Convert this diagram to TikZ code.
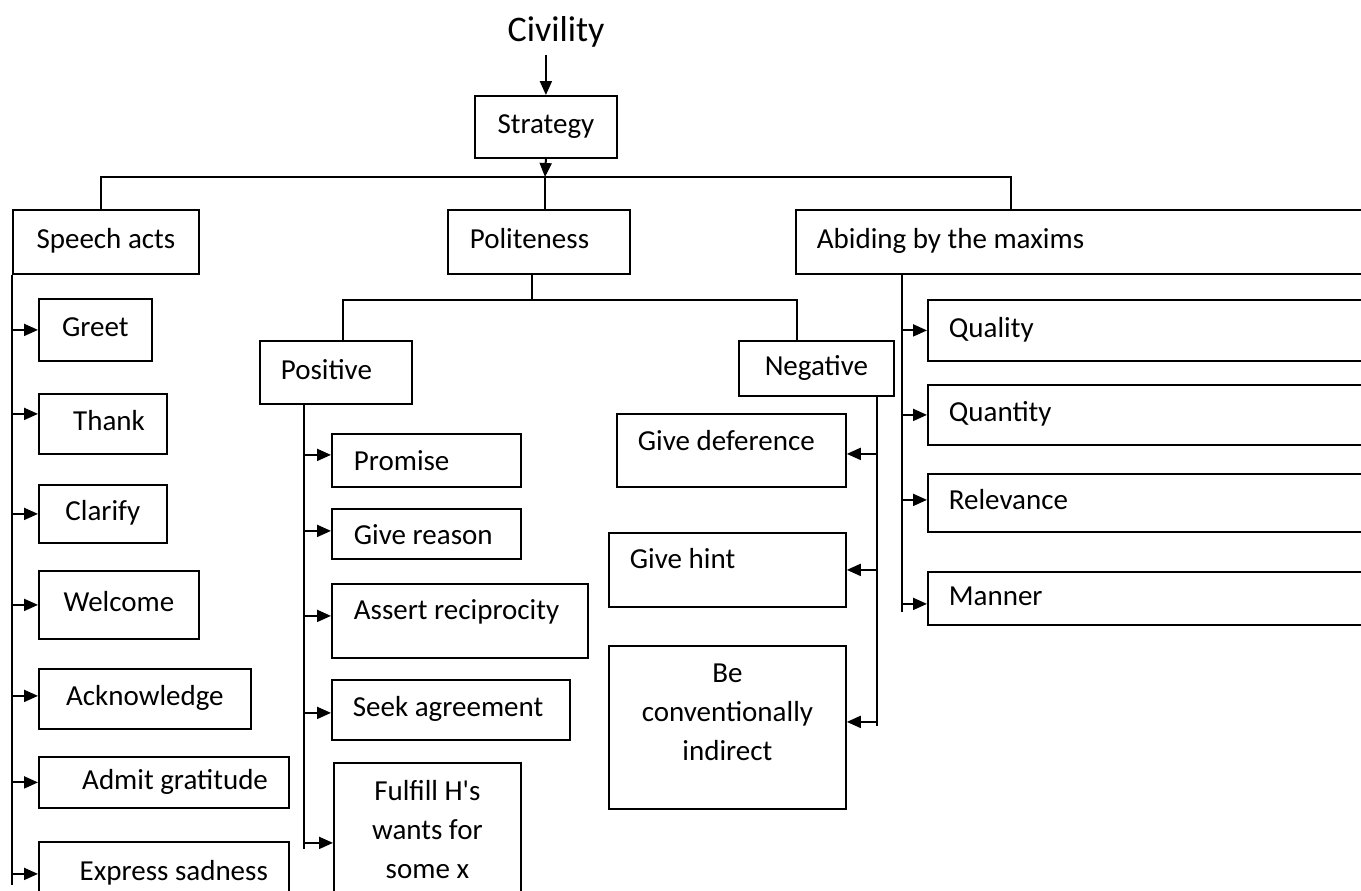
\documentclass[tikz,border=0pt]{standalone}
\usepackage{fontspec}
\setmainfont{Carlito}
\usetikzlibrary{arrows.meta}
\tikzset{
  every node/.style={font=\fontsize{14.5}{19.5}\selectfont},
  box/.style 2 args={draw, line width=0.9pt, inner sep=0pt, anchor=north west,
    minimum width=#1, minimum height=#2, text height=10.5pt, text depth=3.5pt},
  lt/.style={text width=#1, align=flush left},
  rt/.style={text width=#1, align=flush right},
  ml/.style={align=center, text height=, text depth=#1},
  ln/.style={line width=1pt},
  arr/.style={line width=1pt, -{Triangle[length=7pt,width=6pt]}}
}

\begin{document}
\begin{tikzpicture}[x=0.5pt,y=-0.5pt]
\useasboundingbox (0,0) rectangle (1361,890);
\clip (0,0) rectangle (1361,890);
\node[font=\fontsize{18}{22}\selectfont, inner sep=3.5pt] (civ) at (556,32) {Civility};
\node[box={71pt}{31pt}] (strat) at (474,95) {Strategy};
\coordinate (bar) at (545,177);
\draw[arr] (strat.north |- civ.south) -- (strat.north);
\draw[arr] (strat.south) -- (bar);

\node[box={93pt}{32pt}] (sa) at (12,209) {Speech acts};
\node[box={91pt}{32pt}, lt=69pt] (pol) at (447,209) {Politeness};
\node[box={290pt}{32pt}, lt=269pt] (ab) at (795,209) {Abiding by the maxims};
\draw[ln] ([xshift=-2.5pt]sa.north) |- (bar) -| ([xshift=108pt]ab.north west);
\draw[ln] (bar) -- (pol.north -| bar);

% speech acts
\node[box={56.5pt}{31pt}] (greet) at (38,298) {Greet};
\node[box={64pt}{30pt}, rt=42pt] (thank) at (38,393) {Thank};
\node[box={64pt}{29pt}] (clarify) at (38,484) {Clarify};
\node[box={80pt}{34pt}] (welcome) at (38,570) {Welcome};
\node[box={106pt}{30pt}] (ack) at (38,668) {Acknowledge};
\node[box={125pt}{25.5pt}, rt=104pt] (admit) at (38,756) {Admit gratitude};
\node[box={125pt}{32pt}, rt=104pt] (express) at (38,841) {Express sadness};
\draw[ln] (sa.south west) -- ++(0,610) coordinate (satrunk);
\draw[arr] (greet.west -| satrunk) -- (greet.west);
\draw[arr] ([yshift=5pt]thank.west -| satrunk) -- ([yshift=5pt]thank.west);
\draw[arr] (clarify.west -| satrunk) -- (clarify.west);
\draw[arr] (welcome.west -| satrunk) -- (welcome.west);
\draw[arr] ([yshift=1.5pt]ack.west -| satrunk) -- ([yshift=1.5pt]ack.west);
\draw[arr] (admit.west -| satrunk) -- (admit.west);
\draw[arr] (express.west -| satrunk) -- (express.west);

% politeness
\node[box={76pt}{31.5pt}, lt=55pt] (pos) at (259,340) {Positive};
\node[box={77.5pt}{27.5pt}] (neg) at (738,340) {Negative};
\draw[ln] ([xshift=-3.5pt]pol.south) -- ++(0,25) coordinate (pj);
\draw[ln] ([xshift=3.5pt]pos.north) |- (pj) -| ([xshift=-9.75pt]neg.north);

\node[box={94.5pt}{26.5pt}, lt=72.5pt, text depth=0pt] (promise) at (331,433) {Promise};
\node[box={94.5pt}{25pt}, lt=72.5pt, text depth=0pt] (reason) at (331,508) {Give reason};
\node[box={128pt}{37pt}, lt=106pt, text depth=11.5pt] (assert) at (331,583) {Assert reciprocity};
\node[box={119pt}{30pt}, lt=98pt] (seek) at (331,679) {Seek agreement};
\node[box={93.5pt}{66.5pt}, ml=] (fulfill) at (333,762) {Fulfill H\textquotesingle s\\wants for\\some x};
\draw[ln] ([xshift=22.5pt]pos.south west) -- ++(0,444) coordinate (postrunk);
\draw[arr] ([yshift=2.75pt]promise.west -| postrunk) -- ([yshift=2.75pt]promise.west);
\draw[arr] ([yshift=1.5pt]reason.west -| postrunk) -- ([yshift=1.5pt]reason.west);
\draw[arr] ([yshift=2.5pt]assert.west -| postrunk) -- ([yshift=2.5pt]assert.west);
\draw[arr] ([yshift=-1.5pt]seek.west -| postrunk) -- ([yshift=-1.5pt]seek.west);
\draw[arr] ([yshift=-6.75pt]fulfill.west -| postrunk) -- ([yshift=-6.75pt]fulfill.west);

\node[box={114.5pt}{36.5pt}, lt=93.5pt, text depth=10pt] (defer) at (616,413) {Give deference};
\node[box={118.5pt}{37pt}, lt=97.5pt, text depth=11.5pt] (hint) at (608,532) {Give hint};
\node[box={118.5pt}{81.5pt}, ml=15.5pt] (indirect) at (608,645) {Be\\conventionally\\indirect};
\draw[ln] ([xshift=-9pt]neg.south east) -- ++(0,329) coordinate (negtrunk);
\draw[arr] ([yshift=-1.75pt]defer.east -| negtrunk) -- ([yshift=-1.75pt]defer.east);
\draw[arr] (hint.east -| negtrunk) -- (hint.east);
\draw[arr] ([yshift=2.75pt]indirect.east -| negtrunk) -- ([yshift=2.75pt]indirect.east);

% maxims
\node[box={224pt}{30.5pt}, lt=203pt] (quality) at (927,299) {Quality};
\node[box={224pt}{30pt}, lt=203pt] (quantity) at (927,384) {Quantity};
\node[box={224pt}{29pt}, lt=203pt] (relevance) at (927,473) {Relevance};
\node[box={224pt}{26.5pt}, lt=203pt] (manner) at (927,571) {Manner};
\draw[ln] ([xshift=53.5pt]ab.south west) -- ++(0,337) coordinate (abtrunk);
\draw[arr] (quality.west -| abtrunk) -- (quality.west);
\draw[arr] (quantity.west -| abtrunk) -- (quantity.west);
\draw[arr] ([yshift=1.5pt]relevance.west -| abtrunk) -- ([yshift=1.5pt]relevance.west);
\draw[arr] ([yshift=-2.75pt]manner.west -| abtrunk) -- ([yshift=-2.75pt]manner.west);
\end{tikzpicture}
\end{document}
